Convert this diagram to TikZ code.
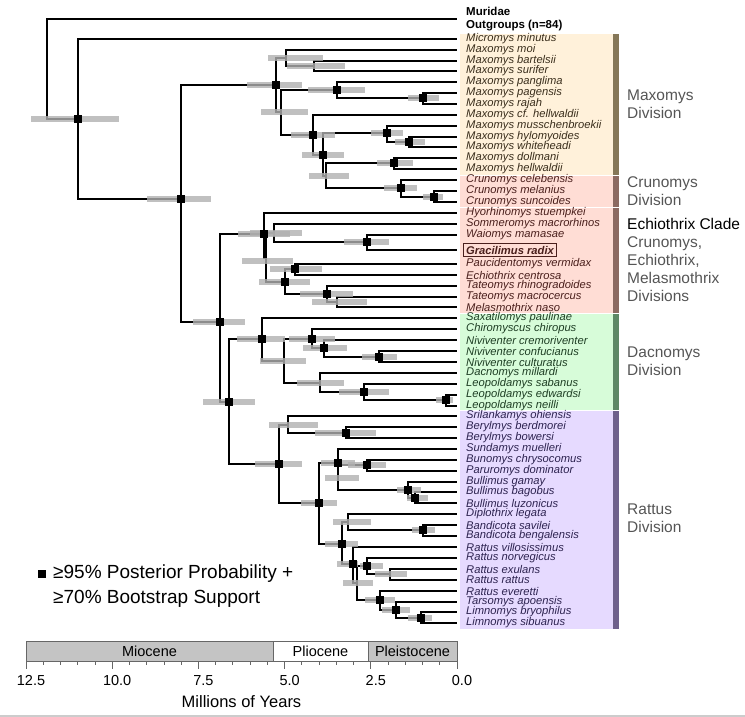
\documentclass[tikz,border=0pt]{standalone}
\usepackage{fontspec}
\setmainfont{Liberation Sans}
\usetikzlibrary{backgrounds}

\definecolor{maxbg}{HTML}{FFF1DA}
\definecolor{maxbar}{HTML}{857758}
\definecolor{maxtxt}{HTML}{3A2E1C}
\definecolor{crubg}{HTML}{FFDDD5}
\definecolor{crubar}{HTML}{8C6A62}
\definecolor{crutxt}{HTML}{4A1F1C}
\definecolor{dacbg}{HTML}{D7FCD9}
\definecolor{dacbar}{HTML}{5E8866}
\definecolor{dactxt}{HTML}{1E3E24}
\definecolor{ratbg}{HTML}{E6DAFF}
\definecolor{ratbar}{HTML}{6F618C}
\definecolor{rattxt}{HTML}{2D2350}
\definecolor{hpdgray}{HTML}{B0B0B0}
\definecolor{divgray}{HTML}{555555}
\definecolor{epochgray}{HTML}{C4C4C4}

\begin{document}
\begin{tikzpicture}[x=1pt, y=-1pt]
    \tikzstyle{tip}=[anchor=west, inner xsep=9pt, inner ysep=0pt, font=\fontsize{11.2}{11}\selectfont\itshape]
    \tikzstyle{maxtip}=[tip, text=maxtxt]
    \tikzstyle{crutip}=[tip, text=crutxt]
    \tikzstyle{dactip}=[tip, text=dactxt]
    \tikzstyle{rattip}=[tip, text=rattxt]
    \tikzstyle{outtip}=[anchor=west, inner xsep=9pt, inner ysep=0pt, align=left, font=\bfseries\fontsize{11.5}{13}\selectfont]
    \tikzstyle{grbox}=[anchor=west, draw=crutxt, line width=1.2pt, inner xsep=2.5pt, inner ysep=0pt, minimum height=13pt, text=crutxt, font=\fontsize{11.2}{11}\selectfont\bfseries\itshape]
    \tikzstyle{branch}=[every edge/.style={draw, line width=2.1pt, to path={|- (\tikztotarget)}}]
    \tikzstyle{hpd}=[fill=hpdgray, fill opacity=.8]
    \tikzstyle{supp}=[fill=black, rectangle, inner sep=0pt, minimum size=7.8pt]
    \tikzstyle{divlabel}=[anchor=west, align=left, inner sep=0pt, text=divgray, font=\fontsize{15.5}{18}\selectfont]
    \tikzstyle{epoch}=[draw=black!60, line width=.8pt, minimum height=20pt, inner sep=0pt, font=\fontsize{14.5}{15}\selectfont]
    \tikzstyle{tick}=[draw=black!60, line width=.8pt]

    \useasboundingbox (0,0) rectangle (745,717);

    % division blocks
    \fill[maxbg] (460,34) rectangle (613,174.5);
    \fill[maxbar] (613,34) rectangle (619,174.5);
    \fill[crubg] (460,175.5) rectangle (613,206.5);
    \fill[crubar] (613,175.5) rectangle (619,206.5);
    \fill[crubg] (460,207.5) rectangle (613,313);
    \fill[crubar] (613,207.5) rectangle (619,313);
    \fill[dacbg] (460,314) rectangle (613,409.5);
    \fill[dacbar] (613,314) rectangle (619,409.5);
    \fill[ratbg] (460,410.5) rectangle (613,629);
    \fill[ratbar] (613,410.5) rectangle (619,629);

    % internal nodes
    \coordinate (root) at (47,69);
    \coordinate (a) at (78,119);
    \coordinate (b) at (181,199);
    \coordinate (c) at (276,85);
    \coordinate (e) at (286,58);
    \coordinate (f) at (314,66);
    \coordinate (h) at (281,112);
    \coordinate (g) at (337,90);
    \coordinate (j) at (423,98);
    \coordinate (i) at (313,135);
    \coordinate (k) at (323,155);
    \coordinate (l) at (387,133);
    \coordinate (p) at (409,142);
    \coordinate (s) at (326,176);
    \coordinate (n) at (394,163);
    \coordinate (q) at (401,188);
    \coordinate (r) at (434,197);
    \coordinate (d) at (220,322);
    \coordinate (t) at (264,234);
    \coordinate (t1) at (266,258);
    \coordinate (w) at (274,233);
    \coordinate (x) at (367,242);
    \coordinate (v) at (285,282);
    \coordinate (y) at (295,269);
    \coordinate (z) at (327,294);
    \coordinate (z1) at (337,302);
    \coordinate (u) at (229,402);
    \coordinate (aa) at (262,339);
    \coordinate (ad) at (284,361);
    \coordinate (ae) at (312,339);
    \coordinate (ag) at (324,348);
    \coordinate (ah) at (379,357);
    \coordinate (af) at (320,383);
    \coordinate (ai) at (364,392);
    \coordinate (aj) at (446,400);
    \coordinate (ab) at (279,464);
    \coordinate (ak) at (288,425);
    \coordinate (al) at (346,433);
    \coordinate (am) at (319,503);
    \coordinate (an) at (338,463);
    \coordinate (aq) at (367,465);
    \coordinate (ao) at (408,490);
    \coordinate (as) at (415,498);
    \coordinate (ar) at (342,544);
    \coordinate (av) at (348,522);
    \coordinate (au) at (423,530);
    \coordinate (aw) at (353,564);
    \coordinate (aw2) at (357,583);
    \coordinate (ay) at (367,566);
    \coordinate (az) at (390,574);
    \coordinate (ax) at (380,600);
    \coordinate (ba) at (396,610);
    \coordinate (bb) at (421,618);

    % tips
    \node[outtip] (outgrp) at (457,19) {Muridae\\Outgroups (n=84)};
    \node[maxtip] (micro) at (457,39) {Micromys minutus};
    \node[maxtip] (moi) at (457,50) {Maxomys moi};
    \node[maxtip] (bartelsii) at (457,61) {Maxomys bartelsii};
    \node[maxtip] (surifer) at (457,71) {Maxomys surifer};
    \node[maxtip] (panglima) at (457,82) {Maxomys panglima};
    \node[maxtip] (pagensis) at (457,93) {Maxomys pagensis};
    \node[maxtip] (rajah) at (457,104) {Maxomys rajah};
    \node[maxtip] (cfhell) at (457,115) {Maxomys cf. hellwaldii};
    \node[maxtip] (mussch) at (457,126) {Maxomys musschenbroekii};
    \node[maxtip] (hylomy) at (457,137) {Maxomys hylomyoides};
    \node[maxtip] (whitehd) at (457,147) {Maxomys whiteheadi};
    \node[maxtip] (dollmani) at (457,158) {Maxomys dollmani};
    \node[maxtip] (hellw) at (457,169) {Maxomys hellwaldii};
    \node[crutip] (celeb) at (457,180) {Crunomys celebensis};
    \node[crutip] (melan) at (457,191) {Crunomys melanius};
    \node[crutip] (sunco) at (457,202) {Crunomys suncoides};
    \node[crutip] (hyor) at (457,213) {Hyorhinomys stuempkei};
    \node[crutip] (somm) at (457,224) {Sommeromys macrorhinos};
    \node[crutip] (waio) at (457,235) {Waiomys mamasae};
    \coordinate (gracend) at (457,250);
    \node[grbox] (grac) at (463,250) {Gracilimus radix};
    \node[crutip] (pauci) at (457,264) {Paucidentomys vermidax};
    \node[crutip] (echi) at (457,275) {Echiothrix centrosa};
    \node[crutip] (tatrhi) at (457,286) {Tateomys rhinogradoides};
    \node[crutip] (tatmac) at (457,297) {Tateomys macrocercus};
    \node[crutip] (melas) at (457,307) {Melasmothrix naso};
    \node[dactip] (saxa) at (457,318) {Saxatilomys paulinae};
    \node[dactip] (chiro) at (457,329) {Chiromyscus chiropus};
    \node[dactip] (nivcre) at (457,340) {Niviventer cremoriventer};
    \node[dactip] (nivcon) at (457,351) {Niviventer confucianus};
    \node[dactip] (nivcul) at (457,362) {Niviventer culturatus};
    \node[dactip] (dacno) at (457,373) {Dacnomys millardi};
    \node[dactip] (leosab) at (457,384) {Leopoldamys sabanus};
    \node[dactip] (leoedw) at (457,395) {Leopoldamys edwardsi};
    \node[dactip] (leonei) at (457,406) {Leopoldamys neilli};
    \node[rattip] (srilan) at (457,416) {Srilankamys ohiensis};
    \node[rattip] (berber) at (457,427) {Berylmys berdmorei};
    \node[rattip] (berbow) at (457,438) {Berylmys bowersi};
    \node[rattip] (sunda) at (457,449) {Sundamys muelleri};
    \node[rattip] (bunomys) at (457,460) {Bunomys chrysocomus};
    \node[rattip] (paru) at (457,471) {Paruromys dominator};
    \node[rattip] (bulgam) at (457,482) {Bullimus gamay};
    \node[rattip] (bulbag) at (457,492) {Bullimus bagobus};
    \node[rattip] (bulluz) at (457,503) {Bullimus luzonicus};
    \node[rattip] (diplo) at (457,514) {Diplothrix legata};
    \node[rattip] (bansav) at (457,525) {Bandicota savilei};
    \node[rattip] (banben) at (457,536) {Bandicota bengalensis};
    \node[rattip] (ratvil) at (457,547) {Rattus villosissimus};
    \node[rattip] (ratnor) at (457,558) {Rattus norvegicus};
    \node[rattip] (ratexu) at (457,569) {Rattus exulans};
    \node[rattip] (ratrat) at (457,580) {Rattus rattus};
    \node[rattip] (rateve) at (457,591) {Rattus everetti};
    \node[rattip] (tarso) at (457,602) {Tarsomys apoensis};
    \node[rattip] (limbry) at (457,612) {Limnomys bryophilus};
    \node[rattip] (limsib) at (457,623) {Limnomys sibuanus};

    \path[branch]
    (root) edge (outgrp.west) (root) edge (a)
    (a) edge (micro.west) (a) edge (b)
    (b) edge (c) (b) edge (d)
    (c) edge (e) (c) edge (h)
    (e) edge (moi.west) (e) edge (f)
    (f) edge (bartelsii.west) (f) edge (surifer.west)
    (h) edge (g) (h) edge (i)
    (g) edge (panglima.west) (g) edge (j)
    (j) edge (pagensis.west) (j) edge (rajah.west)
    (i) edge (cfhell.west) (i) edge (k)
    (k) edge (l) (k) edge (s)
    (l) edge (mussch.west) (l) edge (p)
    (p) edge (hylomy.west) (p) edge (whitehd.west)
    (s) edge (n) (s) edge (q)
    (n) edge (dollmani.west) (n) edge (hellw.west)
    (q) edge (celeb.west) (q) edge (r)
    (r) edge (melan.west) (r) edge (sunco.west)
    (d) edge (t) (d) edge (u)
    (t) edge (hyor.west) (t) edge (t1)
    (t1) edge (w) (t1) edge (v)
    (w) edge (somm.west) (w) edge (x)
    (x) edge (waio.west) (x) edge (gracend)
    (v) edge (y) (v) edge (z)
    (y) edge (pauci.west) (y) edge (echi.west)
    (z) edge (tatrhi.west) (z) edge (z1)
    (z1) edge (tatmac.west) (z1) edge (melas.west)
    (u) edge (aa) (u) edge (ab)
    (aa) edge (saxa.west) (aa) edge (ad)
    (ad) edge (ae) (ad) edge (af)
    (ae) edge (chiro.west) (ae) edge (ag)
    (ag) edge (nivcre.west) (ag) edge (ah)
    (ah) edge (nivcon.west) (ah) edge (nivcul.west)
    (af) edge (dacno.west) (af) edge (ai)
    (ai) edge (leosab.west) (ai) edge (aj)
    (aj) edge (leoedw.west) (aj) edge (leonei.west)
    (ab) edge (ak) (ab) edge (am)
    (ak) edge (srilan.west) (ak) edge (al)
    (al) edge (berber.west) (al) edge (berbow.west)
    (am) edge (an) (am) edge (ar)
    (an) edge (sunda.west) (an) edge (aq) (an) edge (ao)
    (aq) edge (bunomys.west) (aq) edge (paru.west)
    (ao) edge (bulgam.west) (ao) edge (as)
    (as) edge (bulbag.west) (as) edge (bulluz.west)
    (ar) edge (av) (ar) edge (aw)
    (av) edge (diplo.west) (av) edge (au)
    (au) edge (bansav.west) (au) edge (banben.west)
    (aw) edge (ratvil.west) (aw) edge (aw2)
    (aw2) edge (ay) (aw2) edge (ax)
    (ay) edge (ratnor.west) (ay) edge (az)
    (az) edge (ratexu.west) (az) edge (ratrat.west)
    (ax) edge (rateve.west) (ax) edge (ba)
    (ba) edge (tarso.west) (ba) edge (bb)
    (bb) edge (limbry.west) (bb) edge (limsib.west);

    % 95% HPD bars (y / from / to)
    \foreach \yy/\xa/\xb in {119/31/119, 199/147/211, 85/247/302, 58/268/323, 66/287/345,
        112/261/308, 90/308/365, 98/408/439, 135/291/335, 155/302/344, 133/371/403,
        142/395/425, 176/309/349, 163/377/413, 188/384/417, 197/423/443,
        322/193/245, 234/238/290, 261/242/293, 233/250/302, 242/344/389, 282/259/310,
        269/270/322, 294/300/353, 302/312/367, 402/203/255, 339/237/285, 361/260/306,
        339/289/335, 348/303/347, 357/362/397, 383/297/344, 392/339/389, 400/436/453,
        464/255/302, 425/269/318, 433/315/376, 503/301/337, 463/321/355, 478/325/359,
        465/348/386, 490/397/421, 498/407/428, 544/325/358, 522/333/371, 530/412/435,
        564/337/358, 583/343/373, 566/360/383, 574/375/407, 600/365/395, 610/382/410,
        618/408/432}
        \fill[hpd] (\xa,\yy-2.8) rectangle (\xb,\yy+2.8);

    % supported nodes
    \foreach \nd in {a,b,c,g,j,i,k,l,p,n,q,r,d,t,x,v,y,z,u,aa,ae,ag,ah,ai,aj,
        ab,al,am,an,aq,ao,as,ar,au,aw,ay,ax,ba,bb}
        \node[supp] (sq\nd) at (\nd) {};

    % division labels
    \node[divlabel] (maxlab) at (627,104) {Maxomys\\Division};
    \node[divlabel] (crulab) at (627,191) {Crunomys\\Division};
    \node[divlabel, text=black] (echlab) at (627,224) {Echiothrix Clade};
    \node[divlabel] (cemlab) at (627,269.5) {Crunomys,\\Echiothrix,\\Melasmothrix\\Divisions};
    \node[divlabel] (daclab) at (627,361) {Dacnomys\\Division};
    \node[divlabel] (ratlab) at (627,518) {Rattus\\Division};

    % legend
    \node[supp, minimum size=8pt] (legsq) at (42,574) {};
    \node[anchor=west, align=left, inner sep=0pt, font=\fontsize{19}{25}\selectfont] (legtxt) at (53,586.5) {≥95\% Posterior Probability +\\≥70\% Bootstrap Support};

    % time scale
    \node[epoch, fill=epochgray, minimum width=247pt] (mio) at (149.5,651) {Miocene};
    \node[epoch, fill=white, minimum width=95pt] (plio) at (320.5,651) {Pliocene};
    \node[epoch, fill=epochgray, minimum width=89pt] (pleist) at (412.5,651) {Pleistocene};
    \foreach \i in {0,...,25}
        \draw[tick] (457-\i*17.24,661) -- ++(0,4);
    \foreach \i/\lab in {0/0.0, 5/2.5, 10/5.0, 15/7.5, 20/10.0, 25/12.5} {
        \draw[tick] (457-\i*17.24,661) -- ++(0,8);
        \node[font=\fontsize{14.5}{15}\selectfont] (tl\i) at (462-\i*17.24,681) {\lab};
    }
    \node[font=\fontsize{16.5}{17}\selectfont] (axlab) at (241.5,702) {Millions of Years};
    \draw[black!20, line width=1.5pt] (0,716) -- (745,716);
\end{tikzpicture}
\end{document}
